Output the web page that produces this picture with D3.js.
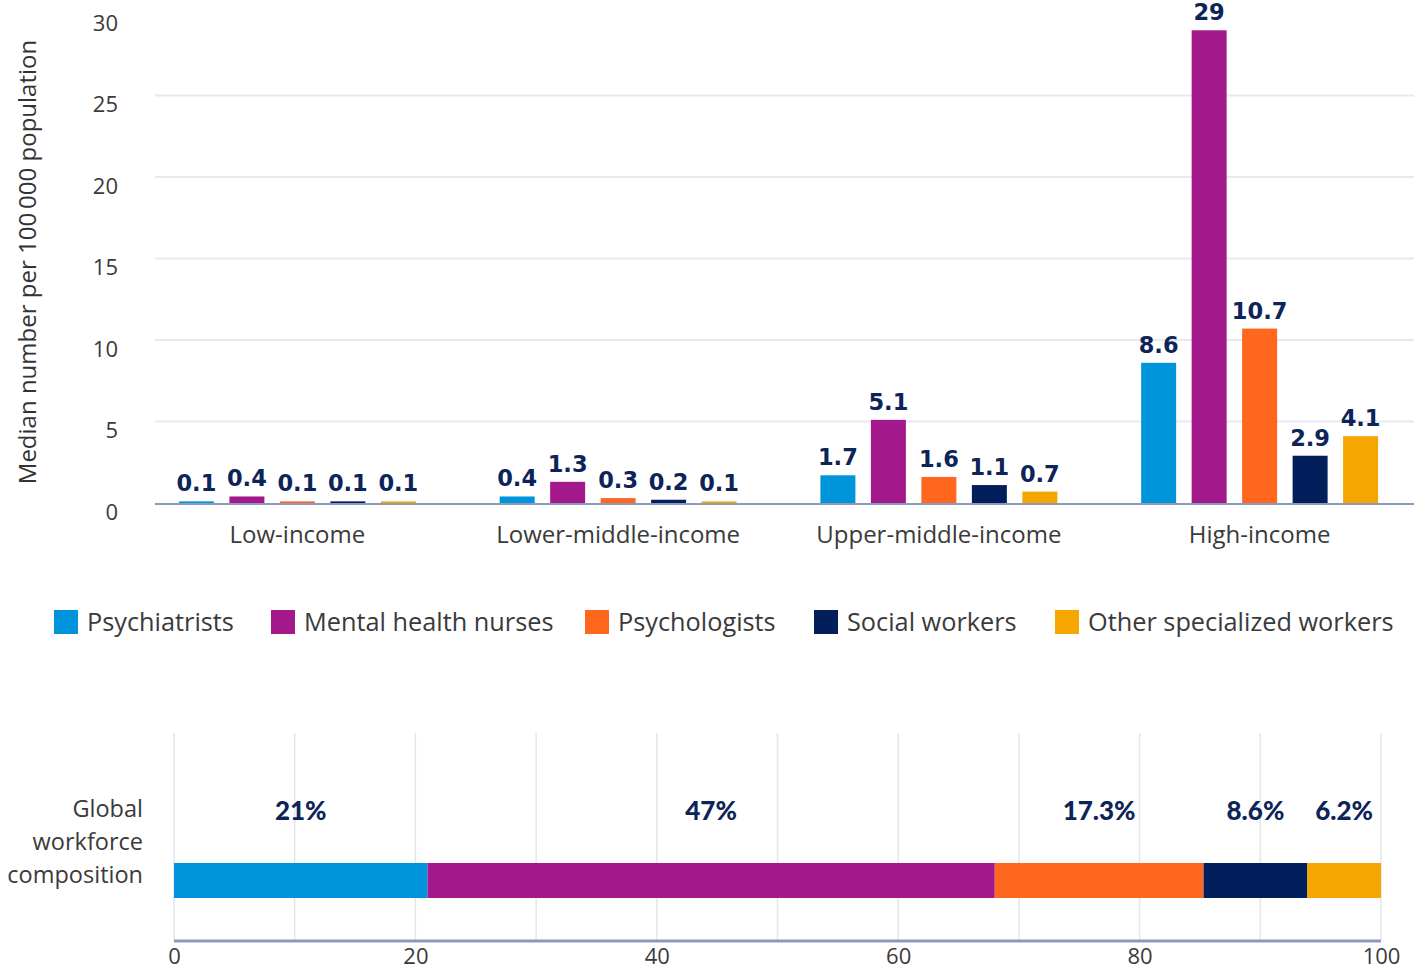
<!DOCTYPE html>
<html>
<head>
<meta charset="utf-8">
<script src="https://cdn.jsdelivr.net/npm/d3@7"></script>
<style>
  html, body { margin: 0; padding: 0; background: #fff; }
  svg { display: block; }
</style>
</head>
<body>
<svg id="chart" width="1416" height="971"></svg>
<script>
// ---------- data ----------
const groups = ["Low-income", "Lower-middle-income", "Upper-middle-income", "High-income"];
const series = ["Psychiatrists", "Mental health nurses", "Psychologists", "Social workers", "Other specialized workers"];
const colors = ["#0095da", "#a3198b", "#fe671d", "#021f5b", "#f5a600"];
const psychiatrists = [0.1, 0.4, 1.7, 8.6];
const nurses = [0.4, 1.3, 5.1, 29];
const psychologists = [0.1, 0.3, 1.6, 10.7];
const socialWorkers = [0.1, 0.2, 1.1, 2.9];
const otherWorkers = [0.1, 0.1, 0.7, 4.1];
const yTicks = [0, 5, 10, 15, 20, 25, 30];
const yGrid = [5, 10, 15, 20, 25];
const globalShare = [21, 47, 17.3, 8.6, 6.2];
const globalLabels = ["21%", "47%", "17.3%", "8.6%", "6.2%"];
const xTicks = [0, 20, 40, 60, 80, 100];
const xGrid = [0, 10, 20, 30, 40, 50, 60, 70, 80, 90, 100];

const seriesValues = [psychiatrists, nurses, psychologists, socialWorkers, otherWorkers];

const textFont = "'Open Sans', Lato, sans-serif";
const labelFont = "'DejaVu Sans', sans-serif";
const labelColor = "#0d2459";
const axisTextColor = "#3a3a3a";

const svg = d3.select("#chart");

// ---------- top grouped bar chart ----------
const y = d3.scaleLinear().domain([0, 30]).range([503, 14]);
const x0 = d3.scaleBand().domain(groups).range([137, 1420]).padding(0);
const x1 = d3.scaleBand().domain(series).range([0, x0.bandwidth()]).paddingInner(0.307).paddingOuter(0.83);

// gridlines
svg.append("g").selectAll("line").data(yGrid).join("line")
  .attr("x1", 155).attr("x2", 1414)
  .attr("y1", d => y(d)).attr("y2", d => y(d))
  .attr("stroke", "#e7e9ef").attr("stroke-width", 2);

// y axis labels
const yAxis = d3.axisLeft(y).tickValues(yTicks).tickSize(0).tickPadding(0);
const yg = svg.append("g").attr("transform", "translate(118,9)").call(yAxis);
yg.select(".domain").remove();
yg.selectAll("text").attr("font-family", textFont).attr("font-size", 22).attr("fill", axisTextColor);

// y title
svg.append("text")
  .attr("transform", "translate(36,262) rotate(-90)")
  .attr("text-anchor", "middle")
  .attr("font-family", textFont).attr("font-size", 24).attr("fill", "#333")
  .text("Median number per 100\u2009000 population");

// bars
const gGroups = svg.append("g").selectAll("g").data(groups).join("g")
  .attr("transform", d => `translate(${x0(d)},0)`);
gGroups.selectAll("rect").data((g, gi) => series.map((s, si) => ({ s, si, v: seriesValues[si][gi] })))
  .join("rect")
  .attr("x", d => x1(d.s)).attr("width", x1.bandwidth())
  .attr("y", d => y(d.v)).attr("height", d => y(0) - y(d.v))
  .attr("fill", d => colors[d.si]);
gGroups.selectAll("text").data((g, gi) => series.map((s, si) => ({ s, si, v: seriesValues[si][gi] })))
  .join("text")
  .attr("x", d => x1(d.s) + x1.bandwidth() / 2)
  .attr("y", d => y(d.v) - 10)
  .attr("text-anchor", "middle")
  .attr("font-family", labelFont).attr("font-weight", "bold").attr("font-size", 22.5)
  .attr("fill", labelColor)
  .text(d => d.v);

// baseline
svg.append("line").attr("x1", 155).attr("x2", 1414).attr("y1", y(0) + 1).attr("y2", y(0) + 1)
  .attr("stroke", "#8c9bbb").attr("stroke-width", 2);

// category labels
const xAxis = d3.axisBottom(x0).tickSize(0).tickPadding(0);
const xg = svg.append("g").attr("transform", "translate(0,543)").call(xAxis);
xg.select(".domain").remove();
xg.selectAll("text").attr("dy", 0).attr("font-family", textFont).attr("font-size", 24).attr("fill", axisTextColor);

// ---------- legend ----------
const legendX = [54, 271, 585, 814, 1055];
const legend = svg.append("g").selectAll("g").data(series).join("g")
  .attr("transform", (d, i) => `translate(${legendX[i]},610)`);
legend.append("rect").attr("width", 24).attr("height", 24).attr("fill", (d, i) => colors[i]);
legend.append("text").attr("x", 33).attr("y", 21)
  .attr("font-family", textFont).attr("font-size", 25.3).attr("fill", "#3a3a3a")
  .text(d => d);

// ---------- bottom stacked bar ----------
const xb = d3.scaleLinear().domain([0, 100]).range([174, 1381]);
svg.append("g").selectAll("line").data(xGrid).join("line")
  .attr("x1", d => xb(d)).attr("x2", d => xb(d))
  .attr("y1", 733).attr("y2", 940)
  .attr("stroke", "#e3e6ea").attr("stroke-width", 1.5);

const cum = [];
globalShare.reduce((acc, v, i) => { cum.push([acc, acc + v]); return acc + v; }, 0);
svg.append("g").selectAll("rect").data(globalShare).join("rect")
  .attr("x", (d, i) => xb(cum[i][0]))
  .attr("width", (d, i) => xb(Math.min(cum[i][1], 100)) - xb(cum[i][0]))
  .attr("y", 863).attr("height", 35)
  .attr("fill", (d, i) => colors[i]);

svg.append("g").selectAll("text").data(globalLabels).join("text")
  .attr("x", (d, i) => xb((cum[i][0] + Math.min(cum[i][1], 100)) / 2))
  .attr("y", 820)
  .attr("text-anchor", "middle")
  .attr("font-family", "Lato, sans-serif").attr("font-weight", "900").attr("font-size", 26)
  .attr("fill", labelColor)
  .text(d => d);

svg.append("line").attr("x1", 174).attr("x2", 1381).attr("y1", 941).attr("y2", 941)
  .attr("stroke", "#8c9bbb").attr("stroke-width", 3);

const xbAxis = d3.axisBottom(xb).tickValues(xTicks).tickSize(0).tickPadding(0);
const xbg = svg.append("g").attr("transform", "translate(0,964)").call(xbAxis);
xbg.select(".domain").remove();
xbg.selectAll("text").attr("dy", 0).attr("font-family", textFont).attr("font-size", 22).attr("fill", axisTextColor);

// row label
const rowLabel = svg.append("text").attr("text-anchor", "end")
  .attr("font-family", textFont).attr("font-size", 23.5).attr("fill", "#3a3a3a");
["Global", "workforce", "composition"].forEach((t, i) => {
  rowLabel.append("tspan").attr("x", 143).attr("y", 817 + i * 33).text(t);
});
</script>
</body>
</html>
